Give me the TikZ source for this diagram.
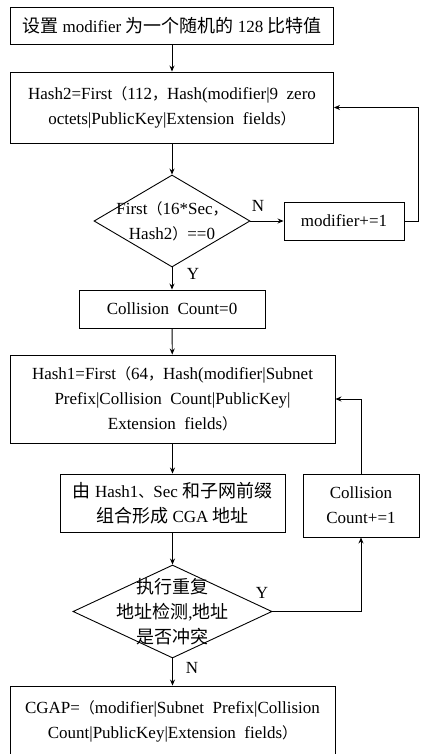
\documentclass[tikz,border=0pt]{standalone}
\usepackage{fontspec}
\setmainfont{Liberation Serif}
\newfontfamily\cjk{Noto Sans CJK SC}
\newcommand{\zh}[1]{{\cjk\fontsize{18}{25}\selectfont #1}}
\newcommand{\fw}[1]{{\cjk\fontsize{15}{25}\selectfont #1}}
\usetikzlibrary{shapes.geometric,arrows.meta}

\begin{document}
\begin{tikzpicture}[x=1pt,y=-1pt,
    every node/.style={font=\fontsize{17}{25}\selectfont},
    process/.style={draw,line width=.9pt,align=center,inner sep=0pt},
    decision/.style={draw,diamond,line width=.9pt,align=center,inner sep=-12pt},
    flow/.style={-{Stealth[length=6pt,width=5pt]},line width=.9pt},
    branch/.style={font=\fontsize{17}{20}\selectfont},
    ]
    \useasboundingbox (0,0) rectangle (420,754);

    % Main column
    \node[process,minimum width=323,minimum height=37] (init) at (172,26)
        {\zh{设置} modifier \zh{为一个随机的} 128 \zh{比特值}};
    \node[process,minimum width=323,minimum height=71] (hashtwo) at (172,107.5)
        {Hash2=First\fw{（}112\fw{，}Hash(modifier|9~ zero\\octets|PublicKey|Extension~ fields\fw{）}};
    \node[decision,shape aspect=1.7,minimum width=156,minimum height=92] (check) at (172,221)
        {First\fw{（}16*Sec\fw{，}\\Hash2\fw{）}==0};
    \node[process,minimum width=186,minimum height=38] (reset) at (172,309)
        {Collision~ Count=0};
    \node[process,minimum width=325,minimum height=88] (hashone) at (172.5,399)
        {Hash1=First\fw{（}64\fw{，}Hash(modifier|Subnet\\Prefix|Collision~ Count|PublicKey|\\Extension~ fields\fw{）}};
    \node[process,minimum width=225,minimum height=58] (form) at (172.5,503)
        {\zh{由} Hash1\fw{、}Sec \zh{和子网前缀}\\\zh{组合形成} CGA \zh{地址}};
    \node[decision,shape aspect=2.14,minimum width=199,minimum height=93] (dad) at (172.5,611.5)
        {\zh{执行重复}\\\zh{地址检测},\zh{地址}\\\zh{是否冲突}};
    \node[process,minimum width=325,minimum height=71] (cgap) at (172.5,721.5)
        {CGAP=\fw{（}modifier|Subnet~ Prefix|Collision\\Count|PublicKey|Extension~ fields\fw{）}};

    % Side boxes
    \node[process,minimum width=120,minimum height=38] (modinc) at (344,221)
        {modifier+=1};
    \node[process,minimum width=116,minimum height=63] (collinc) at (361,505.5)
        {Collision\\Count+=1};

    % Branch labels
    \node[branch] (nofirst) at (258,206) {N};
    \node[branch] (yesfirst) at (193,274) {Y};
    \node[branch] (yessecond) at (262,593) {Y};
    \node[branch] (nosecond) at (192,668) {N};

    % Connectors
    \draw[flow] (init) -- (hashtwo);
    \draw[flow] (hashtwo) -- (check);
    \draw[flow] (check.east) -- (modinc.west);
    \coordinate (loopa) at (418,221);
    \draw[flow] (modinc.east) -- (loopa) |- (hashtwo.east);
    \draw[flow] (check.south) -- (reset.north);
    \draw[flow] (reset) -- (hashone);
    \draw[flow] (hashone) -- (form);
    \draw[flow] (form) -- (dad);
    \draw[flow] (dad.east) -| (collinc.south);
    \draw[flow] (collinc.north) |- (hashone.east);
    \draw[flow] (dad.south) -- (cgap.north);

\end{tikzpicture}
\end{document}
